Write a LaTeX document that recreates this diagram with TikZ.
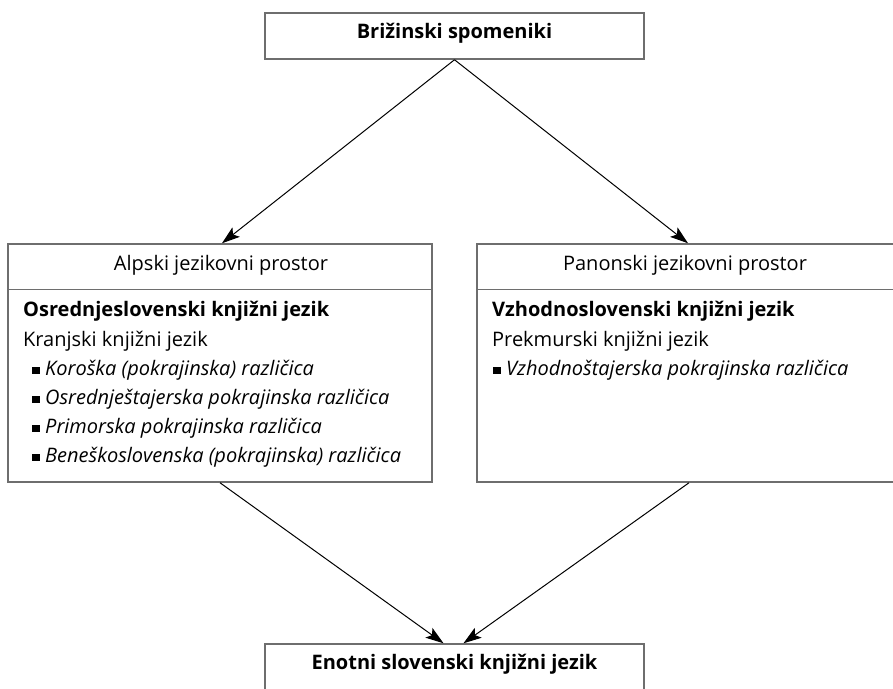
\documentclass[tikz,border=0pt]{standalone}
\usepackage{fontspec}
\setmainfont{Open Sans}
\usetikzlibrary{arrows.meta}
\definecolor{boxgray}{HTML}{6E6E6E}
\begin{document}
\begin{tikzpicture}[x=1pt,y=-1pt,
  font=\fontsize{20}{24}\selectfont,
  boxline/.style={draw=boxgray,line width=1.5pt},
  box/.style={boxline,rectangle,inner sep=0pt,fill=white},
  arr/.style={draw=black,line width=1pt,-{Stealth[length=18pt,width=12pt,inset=4pt]}},
  txt/.style={inner sep=0pt,anchor=west,text height=0.72em,text depth=0.22em},
  ctxt/.style={inner sep=0pt,anchor=center,text height=0.72em,text depth=0.22em},
  bold/.style={font=\fontsize{20}{24}\selectfont\bfseries}
]
\useasboundingbox[fill=white] (0,0) rectangle (893,688);
\newcommand{\sqbul}{\raisebox{1.5pt}{\rule{7.5pt}{7.5pt}}\hspace{5.5pt}}
% boxes
\node[box,minimum width=379pt,minimum height=46pt] (top) at (454.5,36) {};
\node[box,minimum width=424pt,minimum height=238pt] (left) at (220,363) {};
\node[box,minimum width=418pt,minimum height=238pt] (right) at (686,363) {};
\node[box,minimum width=379pt,minimum height=46pt] (bot) at (454.5,667) {};
\draw[boxline] ([yshift=-46pt]left.north west) -- ([yshift=-46pt]left.north east);
\draw[boxline] ([yshift=-46pt]right.north west) -- ([yshift=-46pt]right.north east);
% texts
\node[ctxt,bold] (toptxt) at (454.5,36) {Brižinski spomeniki};
\node[ctxt,bold] (bottxt) at (454.5,667) {Enotni slovenski knjižni jezik};
\node[ctxt] (lhead) at (221,268) {Alpski jezikovni prostor};
\node[ctxt] (rhead) at (685,268) {Panonski jezikovni prostor};
\node[txt,bold] (l1) at (23,314) {Osrednjeslovenski knjižni jezik};
\node[txt] (l2) at (23,344) {Kranjski knjižni jezik};
\node[txt] (l3) at (32,373) {\sqbul\textit{Koroška (pokrajinska) različica}};
\node[txt] (l4) at (32,402) {\sqbul\textit{Osrednještajerska pokrajinska različica}};
\node[txt] (l5) at (32,431) {\sqbul\textit{Primorska pokrajinska različica}};
\node[txt] (l6) at (32,460) {\sqbul\textit{Beneškoslovenska (pokrajinska) različica}};
\node[txt,bold] (r1) at (492,314) {Vzhodnoslovenski knjižni jezik};
\node[txt] (r2) at (492,344) {Prekmurski knjižni jezik};
\node[txt] (r3) at (493,373) {\sqbul\textit{Vzhodnoštajerska pokrajinska različica}};
% arrows
\draw[arr] (top.south) -- ([xshift=2pt]left.north);
\draw[arr] (top.south) -- ([xshift=2pt]right.north);
\draw[arr] (left.south) -- ([xshift=-11pt]bot.north);
\draw[arr] ([xshift=3pt]right.south) -- ([xshift=9pt]bot.north);
\end{tikzpicture}
\end{document}
